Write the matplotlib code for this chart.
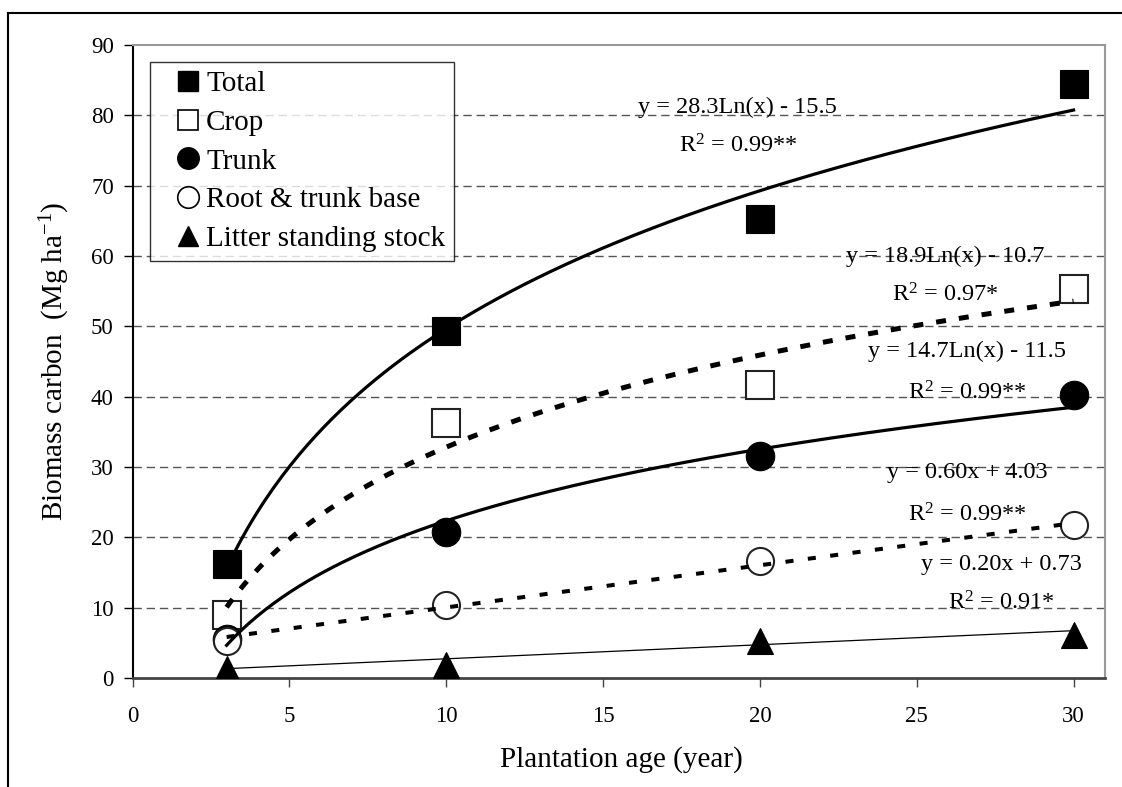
import numpy as np
import matplotlib
matplotlib.use("Agg")
import matplotlib.pyplot as plt
from matplotlib.lines import Line2D

plt.rcParams['font.family'] = ['Liberation Serif', 'DejaVu Serif']
plt.rcParams['mathtext.default'] = 'regular'

# ---- data ----
ages = [3, 10, 20, 30]
total = [16.2, 49.3, 65.3, 84.5]
crop = [9.0, 36.3, 41.7, 55.3]
trunk = [5.5, 20.7, 31.5, 40.2]
root = [5.2, 10.4, 16.6, 21.8]
litter = [1.3, 1.9, 5.3, 6.1]

labels = ["Total", "Crop", "Trunk", "Root & trunk base", "Litter standing stock"]

# trend coefficients (as printed on the chart)
log_total = (28.3, -15.5)
log_crop = (18.9, -10.7)
log_trunk = (14.7, -11.5)
lin_root = (0.60, 4.03)
lin_litter = (0.20, 0.73)

eq_texts = [
    ("y = 28.3Ln(x) - 15.5", 19.3, 81.1),
    ("R$^{2}$ = 0.99**", 19.3, 75.6),
    ("y = 18.9Ln(x) - 10.7", 25.9, 59.9),
    ("R$^{2}$ = 0.97*", 25.9, 54.5),
    ("y = 14.7Ln(x) - 11.5", 26.6, 46.4),
    ("R$^{2}$ = 0.99**", 26.6, 40.5),
    ("y = 0.60x + 4.03", 26.6, 29.2),
    ("R$^{2}$ = 0.99**", 26.6, 23.2),
    ("y = 0.20x + 0.73", 27.7, 16.1),
    ("R$^{2}$ = 0.91*", 27.7, 10.7),
]

xticks = [0, 5, 10, 15, 20, 25, 30]
yticks = [0, 10, 20, 30, 40, 50, 60, 70, 80, 90]

# ---- figure ----
fig = plt.figure(figsize=(11.22, 7.87), dpi=100)
ax = fig.add_axes([0.1181, 0.1385, 0.8667, 0.8043])

ax.set_xlim(0, 31)
ax.set_ylim(0, 90)

# grid
for yv in yticks[1:-1]:
    ax.axhline(yv, color='#555555', lw=1.0, dashes=(6, 3.5), zorder=1)

# markers
ms_sq = 20.5
ms_c = 20.5
ms_t = 18.5
ax.plot(ages, total, ls='none', marker='s', ms=ms_sq, mfc='black', mec='black', mew=0.8, zorder=3)
ax.plot(ages, crop, ls='none', marker='s', ms=ms_sq - 1, mfc='white', mec='#222222', mew=1.5, zorder=3)
ax.plot(ages, trunk, ls='none', marker='o', ms=ms_c, mfc='black', mec='black', mew=0.8, zorder=3)
ax.plot(ages, root, ls='none', marker='o', ms=ms_c - 1, mfc='white', mec='#222222', mew=1.5, zorder=3)
ax.plot(ages, litter, ls='none', marker='^', ms=ms_t, mfc='black', mec='black', mew=0.8, zorder=3)

# trend lines
xs = np.linspace(ages[0], ages[-1], 200)
ax.plot(xs, log_total[0] * np.log(xs) + log_total[1], color='black', lw=2.3, zorder=4)
ax.plot(xs, log_crop[0] * np.log(xs) + log_crop[1], color='black', lw=3.6,
        dashes=(2.0, 2.6), dash_capstyle='butt', zorder=4)
ax.plot(xs, log_trunk[0] * np.log(xs) + log_trunk[1], color='black', lw=2.3, zorder=4)
ax.plot(xs, lin_root[0] * xs + lin_root[1], color='black', lw=2.9,
        dashes=(2.0, 3.6), dash_capstyle='butt', zorder=4)
ax.plot(xs, lin_litter[0] * xs + lin_litter[1], color='black', lw=0.9, zorder=4)

# equation texts
for s, xv, yv in eq_texts:
    ax.text(xv, yv, s, ha='center', va='center', fontsize=17.5, zorder=5)

# spines
ax.spines['left'].set_color('black')
ax.spines['left'].set_linewidth(1.5)
ax.spines['bottom'].set_color('#444444')
ax.spines['bottom'].set_linewidth(2.0)
ax.spines['top'].set_color('#999999')
ax.spines['top'].set_linewidth(1.5)
ax.spines['right'].set_color('#999999')
ax.spines['right'].set_linewidth(1.5)

ax.set_xticks(xticks)
ax.set_yticks(yticks)
ax.tick_params(axis='both', direction='out', length=6.5, width=1.0, labelsize=16.5, colors='black')
ax.tick_params(axis='x', pad=14, color='#444444')
ax.tick_params(axis='y', pad=7)

ax.set_xlabel("Plantation age (year)", fontsize=21)
ax.xaxis.set_label_coords(0.503, -0.108)
ax.set_ylabel("Biomass carbon  (Mg ha$^{-1}$)", fontsize=21)
ax.yaxis.set_label_coords(-0.062, 0.5)

# legend
handles = [
    Line2D([], [], ls='none', marker='s', ms=14.5, mfc='black', mec='black'),
    Line2D([], [], ls='none', marker='s', ms=14.5, mfc='white', mec='black', mew=1.2),
    Line2D([], [], ls='none', marker='o', ms=15.5, mfc='black', mec='black'),
    Line2D([], [], ls='none', marker='o', ms=15.5, mfc='white', mec='black', mew=1.2),
    Line2D([], [], ls='none', marker='^', ms=15, mfc='black', mec='black'),
]
leg = ax.legend(handles, labels, loc='upper left', bbox_to_anchor=(0.018, 0.973),
                fontsize=21, frameon=True, fancybox=False, edgecolor='black',
                handlelength=2.0, handletextpad=-0.38, labelspacing=0.42,
                borderpad=0.3, borderaxespad=0.0)
leg.get_frame().set_linewidth(1.0)
leg.set_zorder(6)

# figure border (top and left)
fig.add_artist(Line2D([0.0071, 1.0], [0.9835, 0.9835], color='black', lw=1.5, transform=fig.transFigure))
fig.add_artist(Line2D([0.0071, 0.0071], [0.0, 0.9835], color='black', lw=1.5, transform=fig.transFigure))

fig.savefig("out.png", dpi=100)
